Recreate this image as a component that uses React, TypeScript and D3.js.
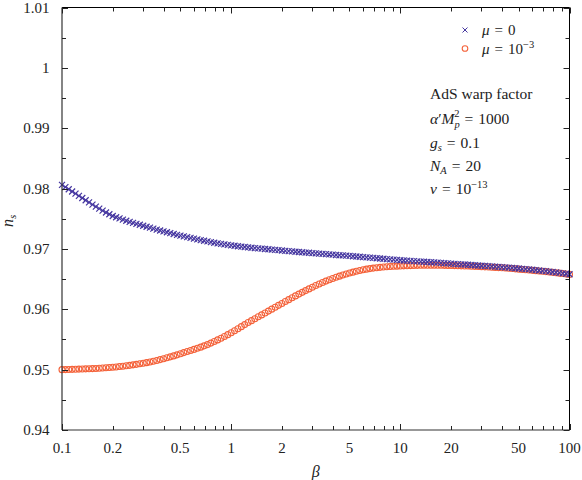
import React from "react";
import * as d3 from "d3";

const betaVals = [
  0.1, 0.1047, 0.1096, 0.1148, 0.1202, 0.1259, 0.1318, 0.138, 0.1445, 0.1514,
  0.1585, 0.166, 0.1738, 0.182, 0.1905, 0.1995, 0.2089, 0.2188, 0.2291, 0.2399,
  0.2512, 0.263, 0.2754, 0.2884, 0.302, 0.3162, 0.3311, 0.3467, 0.3631, 0.3802,
  0.3981, 0.4169, 0.4365, 0.4571, 0.4786, 0.5012, 0.5248, 0.5495, 0.5754, 0.6026,
  0.631, 0.6607, 0.6918, 0.7244, 0.7586, 0.7943, 0.8318, 0.871, 0.912, 0.955,
  1, 1.047, 1.096, 1.148, 1.202, 1.259, 1.318, 1.38, 1.445, 1.514,
  1.585, 1.66, 1.738, 1.82, 1.905, 1.995, 2.089, 2.188, 2.291, 2.399,
  2.512, 2.63, 2.754, 2.884, 3.02, 3.162, 3.311, 3.467, 3.631, 3.802,
  3.981, 4.169, 4.365, 4.571, 4.786, 5.012, 5.248, 5.495, 5.754, 6.026,
  6.31, 6.607, 6.918, 7.244, 7.586, 7.943, 8.318, 8.71, 9.12, 9.55,
  10, 10.47, 10.96, 11.48, 12.02, 12.59, 13.18, 13.8, 14.45, 15.14,
  15.85, 16.6, 17.38, 18.2, 19.05, 19.95, 20.89, 21.88, 22.91, 23.99,
  25.12, 26.3, 27.54, 28.84, 30.2, 31.62, 33.11, 34.67, 36.31, 38.02,
  39.81, 41.69, 43.65, 45.71, 47.86, 50.12, 52.48, 54.95, 57.54, 60.26,
  63.1, 66.07, 69.18, 72.44, 75.86, 79.43, 83.18, 87.1, 91.2, 95.5,
  100,
];

const nsMu0 = [
  0.9806, 0.98024, 0.97988, 0.97952, 0.97916, 0.9788, 0.97844, 0.97807, 0.97771, 0.97735,
  0.977, 0.97667, 0.97635, 0.97604, 0.97574, 0.97545, 0.97525, 0.97505, 0.97486, 0.97467,
  0.97449, 0.97432, 0.97416, 0.974, 0.97384, 0.97368, 0.97352, 0.97336, 0.97321, 0.97306,
  0.97291, 0.97276, 0.97262, 0.97248, 0.97234, 0.97221, 0.97208, 0.97195, 0.97182, 0.9717,
  0.97158, 0.97146, 0.97135, 0.97124, 0.97113, 0.97103, 0.97093, 0.97084, 0.97075, 0.97067,
  0.97059, 0.97052, 0.97045, 0.97038, 0.97032, 0.97026, 0.9702, 0.97014, 0.97009, 0.97004,
  0.96999, 0.96994, 0.96989, 0.96984, 0.96979, 0.96974, 0.96969, 0.96964, 0.96959, 0.96954,
  0.96949, 0.96945, 0.9694, 0.96936, 0.96931, 0.96927, 0.96922, 0.96918, 0.96913, 0.96909,
  0.96905, 0.969, 0.96896, 0.96892, 0.96888, 0.96884, 0.96879, 0.96874, 0.9687, 0.96865,
  0.9686, 0.96856, 0.96851, 0.96846, 0.96841, 0.96837, 0.96832, 0.96827, 0.96822, 0.96818,
  0.96813, 0.96809, 0.96805, 0.96801, 0.96798, 0.96794, 0.9679, 0.96787, 0.96783, 0.96779,
  0.96776, 0.96772, 0.96768, 0.96765, 0.96761, 0.96757, 0.96753, 0.96749, 0.96745, 0.96742,
  0.96738, 0.96734, 0.9673, 0.96726, 0.96722, 0.96718, 0.96714, 0.9671, 0.96706, 0.96702,
  0.96698, 0.96694, 0.96689, 0.96685, 0.9668, 0.96675, 0.9667, 0.96665, 0.9666, 0.96655,
  0.96649, 0.96643, 0.96637, 0.96631, 0.96625, 0.96618, 0.96611, 0.96604, 0.96596, 0.96588,
  0.9658,
];

const nsMu3 = [
  0.95, 0.95001, 0.95003, 0.95005, 0.95007, 0.95009, 0.95011, 0.95013, 0.95015, 0.95017,
  0.9502, 0.95023, 0.95027, 0.95031, 0.95035, 0.9504, 0.95045, 0.95051, 0.95057, 0.95064,
  0.95071, 0.95079, 0.95088, 0.95097, 0.95106, 0.95116, 0.95127, 0.95139, 0.95152, 0.95166,
  0.95181, 0.95196, 0.95212, 0.95228, 0.95245, 0.95263, 0.95282, 0.953, 0.95317, 0.95335,
  0.95354, 0.95373, 0.95394, 0.95415, 0.9544, 0.95466, 0.95493, 0.95521, 0.9555, 0.9558,
  0.95612, 0.95645, 0.95678, 0.95712, 0.95746, 0.9578, 0.95812, 0.95844, 0.95876, 0.95907,
  0.95939, 0.9597, 0.96002, 0.96034, 0.96065, 0.96097, 0.96128, 0.9616, 0.96191, 0.96222,
  0.96252, 0.96281, 0.9631, 0.96338, 0.96366, 0.96393, 0.9642, 0.96444, 0.96467, 0.96489,
  0.9651, 0.9653, 0.96549, 0.96567, 0.96584, 0.966, 0.96615, 0.96629, 0.96642, 0.96654,
  0.96665, 0.96674, 0.96682, 0.96689, 0.96695, 0.967, 0.96704, 0.96708, 0.96712, 0.96715,
  0.96718, 0.9672, 0.96722, 0.96724, 0.96726, 0.96728, 0.96729, 0.9673, 0.9673, 0.9673,
  0.9673, 0.96729, 0.96729, 0.96728, 0.96727, 0.96726, 0.96724, 0.96722, 0.9672, 0.96718,
  0.96716, 0.96714, 0.96711, 0.96709, 0.96706, 0.96703, 0.967, 0.96697, 0.96694, 0.96691,
  0.96688, 0.96684, 0.96679, 0.96675, 0.9667, 0.96665, 0.9666, 0.96655, 0.9665, 0.96645,
  0.9664, 0.96635, 0.96629, 0.96624, 0.96618, 0.96612, 0.96606, 0.96599, 0.96592, 0.96585,
  0.96578,
];

const xTickVals = [0.1, 0.2, 0.5, 1, 2, 5, 10, 20, 50, 100];
const xTickLabels = ["0.1", "0.2", "0.5", "1", "2", "5", "10", "20", "50", "100"];
const yTickVals = [0.94, 0.95, 0.96, 0.97, 0.98, 0.99, 1.0, 1.01];
const yTickLabels = ["0.94", "0.95", "0.96", "0.97", "0.98", "0.99", "1", "1.01"];
const yMinorVals = [0.945, 0.955, 0.965, 0.975, 0.985, 0.995, 1.005];

const BLUE = "#4536a0";
const ORANGE = "#f4623a";
const FONT = "'Liberation Serif', 'Times New Roman', serif";

function Eq({ value, gap = 5 }: { value: string; gap?: number }) {
  return (
    <>
      <tspan dx={gap}>=</tspan>
      <tspan dx={gap}>{value}</tspan>
    </>
  );
}

export default function App() {
  const W = 582, H = 480;
  const left = 62, right = 569.5, top = 7.5, bottom = 430;
  const x = d3.scaleLog().domain([0.1, 100]).range([left, right]);
  const y = d3.scaleLinear().domain([0.94, 1.01]).range([bottom, top]);
  const decades = [0.1, 1, 10, 100];

  const cr = 3;
  const crossPath = (cx: number, cy: number, s: number) =>
    `M${cx - s},${cy - s}L${cx + s},${cy + s}M${cx - s},${cy + s}L${cx + s},${cy - s}`;

  return (
    <svg width={W} height={H} style={{ position: "absolute", left: 0, top: 0, background: "#fff" }} fontFamily={FONT}>
      <rect x={0} y={0} width={W} height={H} fill="#fff" />
      <g fill="none" stroke={ORANGE} strokeWidth={1.1}>
        {betaVals.map((b, i) => (
          <circle key={"o" + i} cx={x(b)} cy={y(nsMu3[i])} r={cr} />
        ))}
      </g>
      <g stroke={BLUE} strokeWidth={1.2}>
        {betaVals.map((b, i) => (
          <path key={"c" + i} d={crossPath(x(b), y(nsMu0[i]), 3)} />
        ))}
      </g>

      <g stroke="#000" fill="none">
        <line x1={left} x2={right} y1={top} y2={top} strokeWidth={1} />
        <line x1={right} x2={right} y1={top} y2={bottom} strokeWidth={1} />
        <line x1={left} x2={left} y1={top} y2={bottom} strokeWidth={1.2} stroke="#333" />
        <line x1={left} x2={right} y1={bottom} y2={bottom} strokeWidth={1.2} stroke="#333" />
      </g>

      <g stroke="#222" strokeWidth={1}>
        {x.ticks().map((t, i) => {
          const isDec = decades.some((d) => Math.abs(d - t) / t < 1e-6);
          const len = isDec ? 6 : 4;
          const px = Math.round(x(t)) + 0.5;
          return (
            <g key={"xt" + i}>
              <line x1={px} x2={px} y1={bottom} y2={bottom - len} />
              <line x1={px} x2={px} y1={top} y2={top + len} />
            </g>
          );
        })}
        {yTickVals.concat(yMinorVals).map((t, i) => {
          const py = Math.round(y(t)) + 0.5;
          const len = i < yTickVals.length ? 6 : 4;
          return (
            <g key={"yt" + i}>
              <line x1={left} x2={left + len} y1={py} y2={py} />
              <line x1={right} x2={right - len} y1={py} y2={py} />
            </g>
          );
        })}
      </g>

      <g fontSize={15} fill="#222">
        {xTickVals.map((t, i) => (
          <text key={"xl" + i} x={x(t)} y={453} textAnchor="middle">
            {xTickLabels[i]}
          </text>
        ))}
        {yTickVals.map((t, i) => (
          <text key={"yl" + i} x={49.5} y={y(t) + 5} textAnchor="end">
            {yTickLabels[i]}
          </text>
        ))}
      </g>

      <text x={(left + right) / 2} y={477} textAnchor="middle" fontSize={16} fontStyle="italic" fill="#222">
        β
      </text>
      <text transform={`translate(13, ${(top + bottom) / 2 + 2}) rotate(-90)`} textAnchor="middle" fontSize={16} fill="#222">
        <tspan fontStyle="italic">n</tspan>
        <tspan fontStyle="italic" fontSize={11} dy={3}>s</tspan>
      </text>

      <path d={crossPath(465, 30, 2.5)} stroke={BLUE} strokeWidth={1} />
      <text x={482} y={35} fontSize={15} fill="#222">
        <tspan fontStyle="italic">μ</tspan>
        <Eq value="0" />
      </text>
      <circle cx={465} cy={48.5} r={2.8} fill="none" stroke={ORANGE} strokeWidth={1.1} />
      <text x={482} y={54} fontSize={15} fill="#222">
        <tspan fontStyle="italic">μ</tspan>
        <Eq value="10" />
        <tspan fontSize={10.5} dy={-6}>−3</tspan>
      </text>

      <g fontSize={15.5} fill="#222">
        <text x={430} y={99}>AdS warp factor</text>
        <text x={430} y={124}>
          <tspan fontStyle="italic">α</tspan>
          <tspan>′</tspan>
          <tspan fontStyle="italic">M</tspan>
          <tspan fontStyle="italic" fontSize={10.5} dy={4}>p</tspan>
          <tspan fontSize={10.5} dx={-5.5} dy={-11}>2</tspan>
          <tspan dx={5} dy={7}>=</tspan>
          <tspan dx={5}>1000</tspan>
        </text>
        <text x={430} y={148}>
          <tspan fontStyle="italic">g</tspan>
          <tspan fontStyle="italic" fontSize={10.5} dy={3}>s</tspan>
          <tspan dx={5} dy={-3}>=</tspan>
          <tspan dx={5}>0.1</tspan>
        </text>
        <text x={430} y={171}>
          <tspan fontStyle="italic">N</tspan>
          <tspan fontStyle="italic" fontSize={10.5} dy={3}>A</tspan>
          <tspan dx={5} dy={-3}>=</tspan>
          <tspan dx={5}>20</tspan>
        </text>
        <text x={430} y={194}>
          <tspan fontStyle="italic">v</tspan>
          <Eq value="10" />
          <tspan fontSize={10.5} dy={-6}>−13</tspan>
        </text>
      </g>
    </svg>
  );
}
